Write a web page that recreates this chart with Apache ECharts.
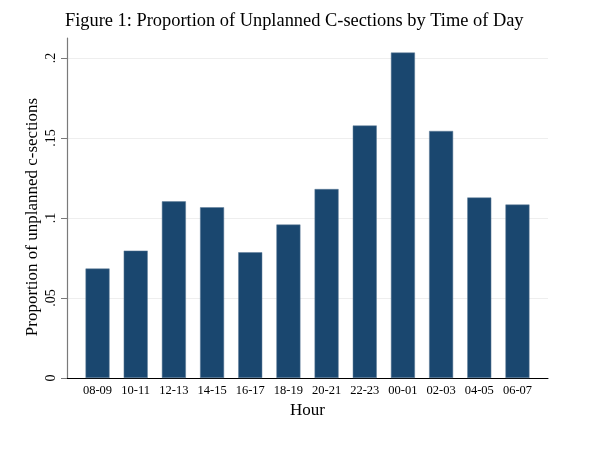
<!DOCTYPE html>
<html>
<head>
<meta charset="utf-8">
<script src="https://cdn.jsdelivr.net/npm/echarts@6/dist/echarts.min.js"></script>
<style>
html,body{margin:0;padding:0;background:#fff;}
#chart{width:599px;height:460px;}
</style>
</head>
<body>
<div id="chart"></div>
<script>
const hours = ['08-09','10-11','12-13','14-15','16-17','18-19','20-21','22-23','00-01','02-03','04-05','06-07'];
const proportions = [0.0684, 0.0796, 0.1104, 0.1067, 0.0786, 0.0959, 0.1181, 0.1578, 0.2034, 0.1544, 0.1128, 0.1084];
const yTicks = [0, 0.05, 0.1, 0.15, 0.2];
const yTickLabels = ['0', '.05', '.1', '.15', '.2'];

const FONT = '"Liberation Serif", "Times New Roman", serif';
const chart = echarts.init(document.getElementById('chart'), null, {renderer: 'canvas'});
const xIdx = hours.map((h, i) => i);

chart.setOption({
  animation: false,
  backgroundColor: '#ffffff',
  title: {
    text: 'Figure 1: Proportion of Unplanned C-sections by Time of Day',
    left: 60,
    top: 7,
    textStyle: {fontFamily: FONT, fontSize: 18.4, fontWeight: 'normal', color: '#000'}
  },
  grid: {left: 67, right: 51, top: 38, bottom: 82, containLabel: false},
  xAxis: {
    type: 'value',
    min: -0.8,
    max: 11.8,
    name: 'Hour',
    nameLocation: 'middle',
    nameGap: 24,
    nameTextStyle: {fontFamily: FONT, fontSize: 17, color: '#000'},
    axisLine: {show: true, onZero: false, lineStyle: {color: '#000', width: 1}},
    axisTick: {show: false},
    splitLine: {show: false},
    axisLabel: {
      customValues: xIdx,
      formatter: v => hours[Math.round(v)],
      fontFamily: FONT, fontSize: 12.5, color: '#000', margin: 6
    }
  },
  yAxis: {
    type: 'value',
    min: 0,
    max: 0.2125,
    name: 'Proportion of unplanned c-sections',
    nameLocation: 'middle',
    nameRotate: 90,
    nameGap: 26,
    nameMoveOverlap: false,
    nameTextStyle: {fontFamily: FONT, fontSize: 17, color: '#000', padding: [0, 18, 0, 0]},
    axisLine: {show: true, onZero: false, lineStyle: {color: '#7a7a7a', width: 1.2}},
    axisTick: {show: true, customValues: yTicks, length: 6, lineStyle: {color: '#7a7a7a'}},
    splitLine: {show: true, lineStyle: {color: '#eeeeee', width: 1}},
    axisLabel: {
      customValues: yTicks,
      rotate: 90,
      margin: 9,
      formatter: v => yTickLabels[yTicks.indexOf(v)],
      fontFamily: FONT, fontSize: 14, color: '#000'
    }
  },
  series: [{
    type: 'bar',
    data: proportions.map((v, i) => [i, v]),
    barWidth: 24,
    itemStyle: {color: '#1a476f', borderColor: '#5f7d99', borderWidth: 0.5}
  }]
});
</script>
</body>
</html>
